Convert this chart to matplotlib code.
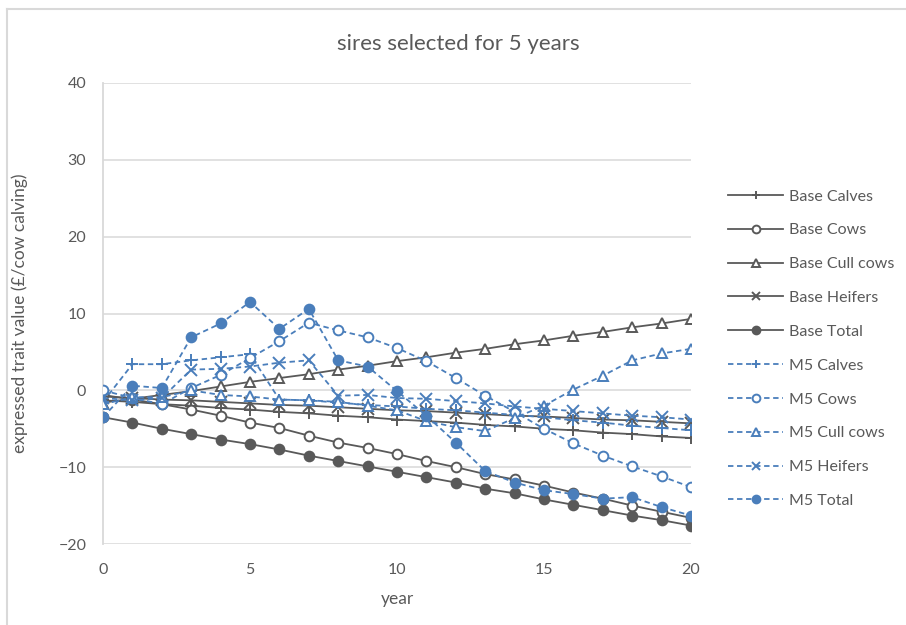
import matplotlib
matplotlib.use("Agg")
import matplotlib.pyplot as plt
from matplotlib.lines import Line2D

plt.rcParams['font.family'] = ['Lato', 'DejaVu Sans']

years = list(range(21))

base_calves = [-1.3, -1.5, -1.8, -2.0, -2.3, -2.5, -2.8, -3.0, -3.3, -3.5, -3.8,
               -4.0, -4.2, -4.5, -4.7, -5.0, -5.2, -5.5, -5.7, -6.0, -6.2]
base_cows = [-0.6, -1.2, -1.8, -2.5, -3.3, -4.2, -4.9, -5.9, -6.8, -7.5, -8.3,
             -9.2, -10.0, -10.9, -11.6, -12.4, -13.3, -14.1, -15.0, -15.8, -16.6]
base_cull = [-1.6, -1.1, -0.6, -0.1, 0.5, 1.1, 1.6, 2.1, 2.7, 3.2, 3.8,
             4.3, 4.9, 5.4, 6.0, 6.5, 7.1, 7.6, 8.2, 8.7, 9.3]
base_heifers = [-0.8, -1.0, -1.2, -1.3, -1.5, -1.7, -1.9, -2.0, -2.2, -2.4, -2.6,
                -2.7, -2.9, -3.1, -3.3, -3.4, -3.6, -3.8, -3.9, -4.1, -4.3]
base_total = [-3.5, -4.2, -5.0, -5.7, -6.4, -7.0, -7.7, -8.5, -9.2, -9.9, -10.6,
              -11.3, -12.0, -12.8, -13.4, -14.2, -14.9, -15.6, -16.3, -16.9, -17.6]

m5_calves = [-1.5, 3.4, 3.4, 3.9, 4.3, 4.7, -1.2, -1.3, -1.6, -1.9, -2.1,
             -2.4, -2.6, -2.9, -3.2, -3.5, -3.9, -4.2, -4.6, -4.9, -5.2]
m5_cows = [0.0, -1.0, -1.8, 0.3, 2.0, 4.2, 6.4, 8.8, 7.8, 6.9, 5.5,
           3.8, 1.6, -0.7, -2.8, -5.0, -6.9, -8.5, -9.9, -11.2, -12.6]
m5_cull = [-1.8, -0.9, -0.9, 0.0, -0.6, -0.8, -1.2, -1.3, -1.5, -2.0, -2.6,
           -4.0, -4.8, -5.3, -3.6, -2.0, 0.1, 1.9, 3.9, 4.8, 5.4]
m5_heifers = [-1.0, -1.3, -1.0, 2.7, 2.8, 3.1, 3.6, 3.9, -0.7, -0.6, -1.0,
              -1.1, -1.4, -1.7, -2.1, -2.4, -2.7, -3.0, -3.3, -3.5, -3.8]
m5_total = [-3.5, 0.6, 0.3, 6.9, 8.7, 11.5, 8.0, 10.6, 3.9, 3.1, -0.1,
            -3.3, -6.8, -10.5, -12.0, -13.0, -13.5, -14.1, -13.9, -15.2, -16.3]

labels = ["Base Calves", "Base Cows", "Base Cull cows", "Base Heifers", "Base Total",
          "M5 Calves", "M5 Cows", "M5 Cull cows", "M5 Heifers", "M5 Total"]
series = [base_calves, base_cows, base_cull, base_heifers, base_total,
          m5_calves, m5_cows, m5_cull, m5_heifers, m5_total]

GREY = "#595959"
BLUE = "#4a7ebb"
TXT = "#595959"
GRID = "#d9d9d9"

markers = ["+", "o", "^", "x", "o"]
fills = [None, "white", "white", None, "full"]

W, H, DPI = 906, 625, 100
fig = plt.figure(figsize=(W / DPI, H / DPI), dpi=DPI)

# axes box in pixel coordinates
left, right, top, bottom = 103, 691, 83, 544
ax = fig.add_axes([left / W, 1 - bottom / H, (right - left) / W, (bottom - top) / H])

handles = []
for i, (lab, ys) in enumerate(zip(labels, series)):
    k = i % 5
    base = i < 5
    col = GREY if base else BLUE
    ls = "-" if base else (0, (3, 2))
    m = markers[k]
    mfc = "white" if fills[k] == "white" else col
    ms = 7 if m in ("o", "^") else 8
    if m == "^":
        ms = 7.5
    h, = ax.plot(years, ys, color=col, lw=1.3, linestyle=ls, marker=m, ms=ms,
                 mfc=mfc, mec=col, mew=1.4, label=lab, zorder=3 + (0 if base else 1))
    handles.append(h)

ax.set_xlim(0, 20)
ax.set_ylim(-20, 40)
ax.set_xticks([0, 5, 10, 15, 20])
ax.set_yticks([-20, -10, 0, 10, 20, 30, 40])
ax.grid(axis="y", color=GRID, lw=1.1, zorder=0)
ax.set_axisbelow(True)
for s in ["top", "right", "bottom"]:
    ax.spines[s].set_visible(False)
ax.spines["left"].set_color(GRID)
ax.spines["left"].set_linewidth(1.3)
ax.tick_params(axis="both", length=0, labelsize=11.5, colors=TXT)
ax.tick_params(axis="y", pad=12)
ax.tick_params(axis="x", pad=14)

ax.set_xlabel("year", fontsize=12.5, color=TXT, labelpad=10)
ax.set_ylabel("expressed trait value (£/cow calving)", fontsize=12.5, color=TXT, labelpad=22)

fig.text(458 / W, 1 - 44 / H, "sires selected for 5 years", ha="center", va="center",
         fontsize=16, color=TXT)

leg = fig.legend(handles=handles, loc="upper left", bbox_to_anchor=(722 / W, 1 - 183 / H),
                 frameon=False, fontsize=11.5, labelspacing=1.23, handlelength=3.4,
                 handletextpad=0.4, borderaxespad=0, markerscale=0.8)
for t in leg.get_texts():
    t.set_color(TXT)

# chart frame edges (left and top)
fig.add_artist(Line2D([6.5 / W, 6.5 / W], [0, 1 - 8.5 / H], color=GRID, lw=1.5))
fig.add_artist(Line2D([6.5 / W, 1], [1 - 8.5 / H, 1 - 8.5 / H], color=GRID, lw=1.5))

fig.savefig("out.png", dpi=DPI)
